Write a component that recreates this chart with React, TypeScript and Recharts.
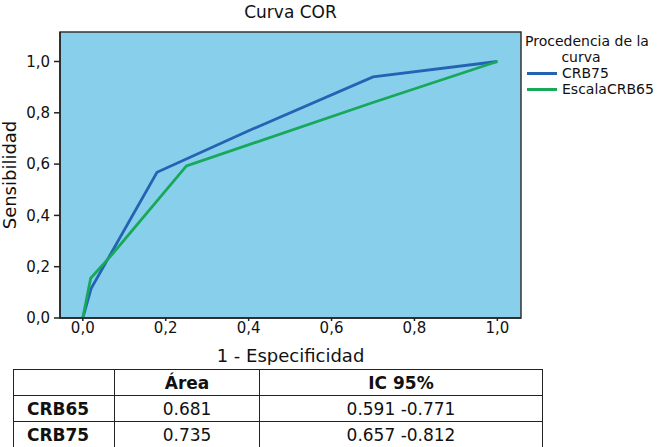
import React from "react";
import { LineChart, Line, XAxis, YAxis, ReferenceArea } from "recharts";

// ROC points (1 - especificidad, sensibilidad)
const crb75X = [0, 0.02, 0.179, 0.4, 0.7, 1];
const crb75Y = [0, 0.115, 0.568, 0.73, 0.94, 1];
const crb65X = [0, 0.019, 0.066, 0.25, 0.7, 1];
const crb65Y = [0, 0.155, 0.239, 0.593, 0.84, 1];

const ticks = [0, 0.2, 0.4, 0.6, 0.8, 1];

const tableHead = ["", "Área", "IC 95%"];
const tableRows = [
  ["CRB65", "0.681", "0.591 -0.771"],
  ["CRB75", "0.735", "0.657 -0.812"],
];

const crb75 = crb75X.map((x, i) => ({ x, y: crb75Y[i] }));
const crb65 = crb65X.map((x, i) => ({ x, y: crb65Y[i] }));

const series = [
  { name: "CRB75", data: crb75, color: "#2463b3" },
  { name: "EscalaCRB65", data: crb65, color: "#17a85a" },
];

const FONT = "'DejaVu Sans', Verdana, sans-serif";
const fmt = (v: number) => v.toFixed(1).replace(".", ",");

const cell: React.CSSProperties = {
  border: "1.5px solid #222",
  height: 24,
  padding: 0,
  textAlign: "center",
  fontSize: 17,
  fontFamily: FONT,
  color: "#111",
};

export default function App() {
  return (
    <div style={{ position: "absolute", left: 0, top: 0, width: 662, height: 447, background: "#fff", overflow: "hidden" }}>
      <div
        style={{
          position: "absolute",
          left: 0,
          width: 581,
          top: 2,
          textAlign: "center",
          fontFamily: FONT,
          fontSize: 17,
          color: "#111",
        }}
      >
        Curva COR
      </div>

      {/* legend */}
      <div
        style={{
          position: "absolute",
          left: 525,
          top: 33,
          width: 150,
          fontFamily: FONT,
          fontSize: 14,
          lineHeight: "16px",
          color: "#111",
          whiteSpace: "nowrap",
        }}
      >
        <div>Procedencia de la</div>
        <div style={{ width: 112, textAlign: "center" }}>curva</div>
        {series.map((s) => (
          <div key={s.name} style={{ display: "flex", alignItems: "center" }}>
            <span style={{ display: "inline-block", width: 30, height: 3, background: s.color, marginLeft: 2, marginRight: 5 }} />
            <span>{s.name}</span>
          </div>
        ))}
      </div>

      <LineChart width={662} height={365} margin={{ top: 32, right: 141, bottom: 0, left: 0 }}>
        <XAxis
          type="number"
          dataKey="x"
          domain={[-0.055, 1.057]}
          ticks={ticks}
          tickFormatter={fmt}
          allowDataOverflow
          height={47}
          axisLine={{ stroke: "#222", strokeWidth: 1.5 }}
          tickLine={{ stroke: "#222", strokeWidth: 1.5 }}
          tickSize={3}
          tickMargin={1}
          tick={{ fill: "#111", fontSize: 15, fontFamily: FONT }}
          label={{
            value: "1 - Especificidad",
            position: "insideBottom",
            offset: 3,
            style: { fill: "#111", fontSize: 18, fontFamily: FONT },
          }}
        />
        <YAxis
          type="number"
          dataKey="y"
          domain={[0, 1.115]}
          ticks={ticks}
          tickFormatter={fmt}
          allowDataOverflow
          width={60}
          axisLine={{ stroke: "#222", strokeWidth: 1.5 }}
          tickLine={{ stroke: "#222", strokeWidth: 1.5 }}
          tickSize={6}
          tickMargin={4}
          tick={{ fill: "#111", fontSize: 15, fontFamily: FONT }}
          label={{
            value: "Sensibilidad",
            angle: -90,
            position: "insideLeft",
            offset: 10,
            style: { fill: "#111", fontSize: 18, fontFamily: FONT, textAnchor: "middle" },
          }}
        />
        <ReferenceArea
          x1={-0.055}
          x2={1.057}
          y1={0}
          y2={1.115}
          fill="#88cfeb"
          fillOpacity={1}
          stroke="#333"
          strokeWidth={1.5}
        />
        {series.map((s) => (
          <Line
            key={s.name}
            data={s.data}
            dataKey="y"
            name={s.name}
            type="linear"
            stroke={s.color}
            strokeWidth={2.8}
            dot={false}
            isAnimationActive={false}
          />
        ))}
      </LineChart>

      <table
        style={{
          position: "absolute",
          left: 13,
          top: 369,
          width: 529,
          borderCollapse: "collapse",
          tableLayout: "fixed",
        }}
      >
        <colgroup>
          <col style={{ width: 101 }} />
          <col style={{ width: 145 }} />
          <col style={{ width: 283 }} />
        </colgroup>
        <thead>
          <tr style={{ height: 26 }}>
            {tableHead.map((h, i) => (
              <th key={i} style={{ ...cell, fontWeight: "bold" }}>
                {h}
              </th>
            ))}
          </tr>
        </thead>
        <tbody>
          {tableRows.map((r) => (
            <tr key={r[0]} style={{ height: 26 }}>
              {r.map((c, i) => (
                <td
                  key={i}
                  style={i === 0 ? { ...cell, textAlign: "left", paddingLeft: 13, fontWeight: "bold" } : cell}
                >
                  {c}
                </td>
              ))}
            </tr>
          ))}
        </tbody>
      </table>
    </div>
  );
}
